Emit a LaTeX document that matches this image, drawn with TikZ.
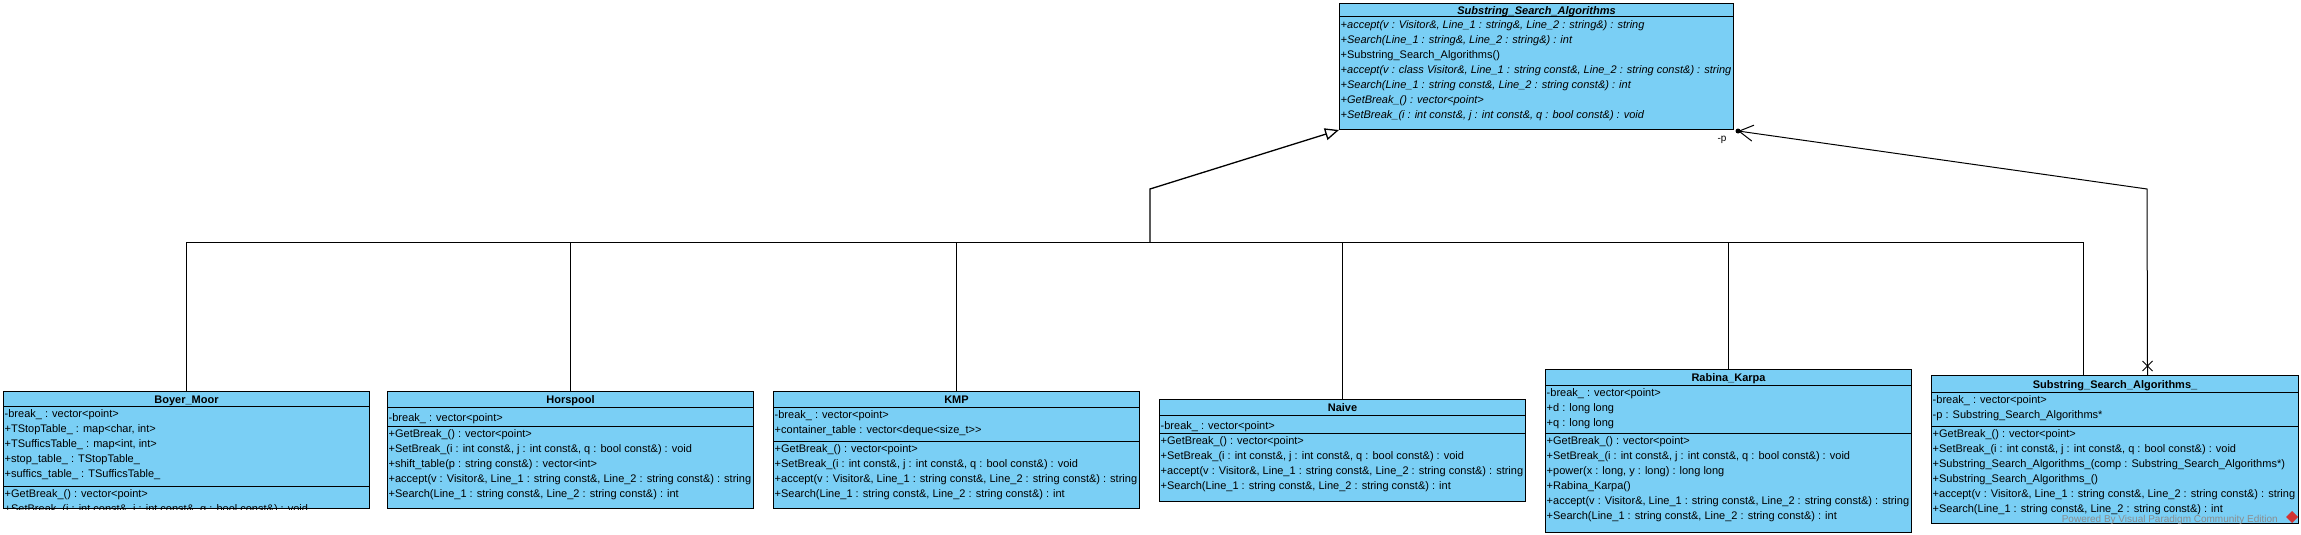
\documentclass[tikz,border=0pt]{standalone}
\usepackage{fontspec}
\setmainfont{Liberation Sans}
\usetikzlibrary{arrows.meta}
\definecolor{vpblue}{RGB}{122,207,245}
\definecolor{vpred}{RGB}{210,50,50}
\definecolor{vpgray}{RGB}{140,140,140}

\begin{document}
\begin{tikzpicture} [x = 1pt, y = -1pt,
  cls/.style = {draw, fill = vpblue, line width = 1pt, anchor = north west, inner sep = 0pt},
  hdr/.style = {anchor = base, inner sep = 0pt, font = \fontsize{11}{15}\selectfont\bfseries},
  txt/.style = {anchor = north west, inner sep = 0pt, align = left, font = \fontsize{11}{15}\selectfont, execute at begin node = \strut},
  sep/.style = {line width = 1pt},
  link/.style = {line width = 1pt}]
\fill[white] (0, 0) rectangle (2301, 535);
\path[use as bounding box] (0, 0) rectangle (2301, 535);
\node[cls, minimum width = 394pt, minimum height = 126pt] (ssa) at (1339, 3){};
\node[cls, minimum width = 366pt, minimum height = 117pt] (bm) at (3, 391){};
\node[cls, minimum width = 366pt, minimum height = 117pt] (hp) at (387, 391){};
\node[cls, minimum width = 366pt, minimum height = 117pt] (kmp) at (773, 391){};
\node[cls, minimum width = 366pt, minimum height = 102pt] (nv) at (1159, 399){};
\node[cls, minimum width = 366pt, minimum height = 163pt] (rk) at (1545, 369){};
\node[cls, minimum width = 367pt, minimum height = 148pt] (ssab) at (1931, 375){};
\draw[sep] ([shift = {(0, 14)}]ssa.north west) -- ([shift = {(0, 14)}]ssa.north east);
\draw[sep] ([shift = {(0, 15)}]bm.north west) -- ([shift = {(0, 15)}]bm.north east);
\draw[sep] ([shift = {(0, 95)}]bm.north west) -- ([shift = {(0, 95)}]bm.north east);
\draw[sep] ([shift = {(0, 16)}]hp.north west) -- ([shift = {(0, 16)}]hp.north east);
\draw[sep] ([shift = {(0, 35)}]hp.north west) -- ([shift = {(0, 35)}]hp.north east);
\draw[sep] ([shift = {(0, 16)}]kmp.north west) -- ([shift = {(0, 16)}]kmp.north east);
\draw[sep] ([shift = {(0, 50)}]kmp.north west) -- ([shift = {(0, 50)}]kmp.north east);
\draw[sep] ([shift = {(0, 16)}]nv.north west) -- ([shift = {(0, 16)}]nv.north east);
\draw[sep] ([shift = {(0, 34)}]nv.north west) -- ([shift = {(0, 34)}]nv.north east);
\draw[sep] ([shift = {(0, 16)}]rk.north west) -- ([shift = {(0, 16)}]rk.north east);
\draw[sep] ([shift = {(0, 64)}]rk.north west) -- ([shift = {(0, 64)}]rk.north east);
\draw[sep] ([shift = {(0, 17)}]ssab.north west) -- ([shift = {(0, 17)}]ssab.north east);
\draw[sep] ([shift = {(0, 51)}]ssab.north west) -- ([shift = {(0, 51)}]ssab.north east);
\node[hdr, font = \fontsize{11}{15}\selectfont\bfseries\itshape] (ssa-title) at ([shift = {(0, 12)}]ssa.north){Substring\_Search\_Algorithms};
\node[hdr] (bm-title) at ([shift = {(0, 12)}]bm.north){Boyer\_Moor};
\node[hdr] (hp-title) at ([shift = {(0, 12.5)}]hp.north){Horspool};
\node[hdr] (kmp-title) at ([shift = {(0, 12.5)}]kmp.north){KMP};
\node[hdr] (nv-title) at ([shift = {(0, 12.5)}]nv.north){Naive};
\node[hdr] (rk-title) at ([shift = {(0, 12.5)}]rk.north){Rabina\_Karpa};
\node[hdr] (ssab-title) at ([shift = {(0, 13)}]ssab.north){Substring\_Search\_Algorithms\_};
\node[txt, font = \fontsize{11}{15}\selectfont\itshape] (ssa-ops) at ([shift = {(1.5, 17.5)}]ssa.north west){+accept(v : Visitor\&, Line\_1 : string\&, Line\_2 : string\&) : string\\
+Search(Line\_1 : string\&, Line\_2 : string\&) : int\\
{\upshape +Substring\_Search\_Algorithms()}\\
+accept(v : class Visitor\&, Line\_1 : string const\&, Line\_2 : string const\&) : string\\
+Search(Line\_1 : string const\&, Line\_2 : string const\&) : int\\
+GetBreak\_() : vector<point>\\
+SetBreak\_(i : int const\&, j : int const\&, q : bool const\&) : void};
\node[txt] (bm-attr) at ([shift = {(1.5, 18.5)}]bm.north west){-break\_ : vector<point>\\
+TStopTable\_ : map<char, int>\\
+TSufficsTable\_ : map<int, int>\\
+stop\_table\_ : TStopTable\_\\
+suffics\_table\_ : TSufficsTable\_};
\begin{scope}
\clip (bm.north west) rectangle (bm.south east);
\node[txt] (bm-ops) at ([shift = {(1.5, 98.5)}]bm.north west){+GetBreak\_() : vector<point>\\
+SetBreak\_(i : int const\&, j : int const\&, q : bool const\&) : void};
\end{scope}
\node[txt] (hp-attr) at ([shift = {(1.5, 19.5)}]hp.north west){-break\_ : vector<point>};
\node[txt] (hp-ops) at ([shift = {(1.5, 38.5)}]hp.north west){+GetBreak\_() : vector<point>\\
+SetBreak\_(i : int const\&, j : int const\&, q : bool const\&) : void\\
+shift\_table(p : string const\&) : vector<int>\\
+accept(v : Visitor\&, Line\_1 : string const\&, Line\_2 : string const\&) : string\\
+Search(Line\_1 : string const\&, Line\_2 : string const\&) : int};
\node[txt] (kmp-attr) at ([shift = {(1.5, 19.5)}]kmp.north west){-break\_ : vector<point>\\
+container\_table : vector<deque<size\_t>{}>};
\node[txt] (kmp-ops) at ([shift = {(1.5, 53.5)}]kmp.north west){+GetBreak\_() : vector<point>\\
+SetBreak\_(i : int const\&, j : int const\&, q : bool const\&) : void\\
+accept(v : Visitor\&, Line\_1 : string const\&, Line\_2 : string const\&) : string\\
+Search(Line\_1 : string const\&, Line\_2 : string const\&) : int};
\node[txt] (nv-attr) at ([shift = {(1.5, 19.5)}]nv.north west){-break\_ : vector<point>};
\node[txt] (nv-ops) at ([shift = {(1.5, 37.5)}]nv.north west){+GetBreak\_() : vector<point>\\
+SetBreak\_(i : int const\&, j : int const\&, q : bool const\&) : void\\
+accept(v : Visitor\&, Line\_1 : string const\&, Line\_2 : string const\&) : string\\
+Search(Line\_1 : string const\&, Line\_2 : string const\&) : int};
\node[txt] (rk-attr) at ([shift = {(1.5, 19.5)}]rk.north west){-break\_ : vector<point>\\
+d : long long\\
+q : long long};
\node[txt] (rk-ops) at ([shift = {(1.5, 67.5)}]rk.north west){+GetBreak\_() : vector<point>\\
+SetBreak\_(i : int const\&, j : int const\&, q : bool const\&) : void\\
+power(x : long, y : long) : long long\\
+Rabina\_Karpa()\\
+accept(v : Visitor\&, Line\_1 : string const\&, Line\_2 : string const\&) : string\\
+Search(Line\_1 : string const\&, Line\_2 : string const\&) : int};
\node[txt] (ssab-attr) at ([shift = {(1.5, 20.5)}]ssab.north west){-break\_ : vector<point>\\
-p : Substring\_Search\_Algorithms*};
\node[txt] (ssab-ops) at ([shift = {(1.5, 54.5)}]ssab.north west){+GetBreak\_() : vector<point>\\
+SetBreak\_(i : int const\&, j : int const\&, q : bool const\&) : void\\
+Substring\_Search\_Algorithms\_(comp : Substring\_Search\_Algorithms*)\\
+Substring\_Search\_Algorithms\_()\\
+accept(v : Visitor\&, Line\_1 : string const\&, Line\_2 : string const\&) : string\\
+Search(Line\_1 : string const\&, Line\_2 : string const\&) : int};
\node[anchor = base east, inner sep = 0pt, text = vpgray, font = \fontsize{10}{12}\selectfont] (mark) at ([shift = {(-21, -2)}]ssab.south east){Powered By Visual Paradigm Community Edition};
\fill[vpred] ([shift = {(-7, -13)}]ssab.south east) -- ++(6, 6) -- ++(-6, 6) -- ++(-6, -6) -- cycle;
\coordinate (fork) at (1150, 242);
\coordinate (bend) at (1150, 189);
\coordinate (ascfoot) at ([shift = {(32.5, 0)}]ssab.north);
\coordinate (abend) at (2147, 189);
\coordinate (aend) at ([shift = {(4, 1)}]ssa.south east);
\draw[link] (bm.north) |- (fork);
\draw[link] (hp.north) |- (fork);
\draw[link] (kmp.north) |- (fork);
\draw[link] (nv.north) |- (fork);
\draw[link] (rk.north) |- (fork);
\draw[link] ([shift = {(-32, 0)}]ssab.north) |- (fork);
\draw[link, line width = 1.3pt, -{Triangle[open, fill = white, length = 14pt, width = 12pt]}] (fork) -- (bend) -- (ssa.south west);
\draw[link, -{Straight Barb[length = 14pt, width = 16pt]}] (ascfoot) -- (abend) -- (aend);
\fill (aend) circle (2.5pt);
\draw[link] ([shift = {(-5, -14)}]ascfoot) -- ++(10, 10) ([shift = {(-5, -4)}]ascfoot) -- ++(10, -10);
\node[inner sep = 0pt, font = \fontsize{10}{12}\selectfont] (p-label) at (1722, 140){-p};
\end{tikzpicture}
\end{document}
